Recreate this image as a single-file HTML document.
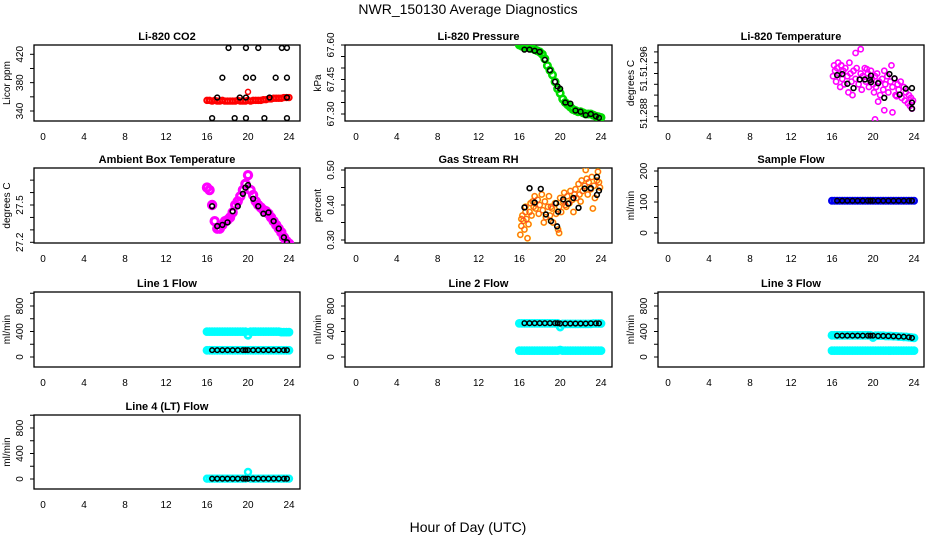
<!DOCTYPE html>
<html><head><meta charset="utf-8"><style>
html,body{margin:0;padding:0;background:#fff;}
svg{display:block;font-family:"Liberation Sans",sans-serif;}
</style></head><body>
<svg id="chart" width="936" height="540" viewBox="0 0 936 540" xmlns="http://www.w3.org/2000/svg">
<rect x="0" y="0" width="936" height="540" fill="#fff"/>
<text x="468" y="14" text-anchor="middle" font-size="14">NWR_150130  Average Diagnostics</text>
<text x="468" y="532" text-anchor="middle" font-size="14">Hour of Day (UTC)</text>
</svg>
<script>
// ---- data ----
const xTicks = [0,4,8,12,16,20,24];
const hoursD = [16.0,16.25,16.5,16.75,17.0,17.25,17.5,17.75,18.0,18.25,18.5,18.75,19.0,19.25,19.5,19.75,20.0,20.25,20.5,20.75,21.0,21.25,21.5,21.75,22.0,22.25,22.5,22.75,23.0,23.25,23.5,23.75,24.0];
const blackH = [16.5,17.0,17.5,18.0,18.5,19.0,19.5,19.75,20.0,20.5,21.0,21.5,22.0,22.5,23.0,23.5,23.8];

const co2Red = [355,355,354,355,354,354,355,354,354,354,354,354,355,354,354,354,355,354,355,355,355,355,356,356,357,357,358,358,358,358,359,359,359];
const co2OutH = [20.0];
const co2OutV = [367];
const co2BlackH = [16.5,17.0,17.5,18.1,18.7,19.2,19.8,19.8,19.8,19.8,20.5,21.0,21.6,22.1,22.7,23.3,23.8,23.8,23.8,23.8];
const co2BlackV = [330,359,387,429,330,359,429,387,359,330,387,429,330,359,387,429,429,387,359,330];

const presGreen = [67.60,67.595,67.59,67.59,67.59,67.585,67.58,67.575,67.57,67.56,67.54,67.51,67.49,67.47,67.44,67.41,67.39,67.365,67.35,67.34,67.33,67.32,67.315,67.31,67.31,67.305,67.30,67.30,67.30,67.295,67.29,67.288,67.285];
const presBlack = [67.58,67.58,67.575,67.57,67.535,67.49,67.44,67.42,67.41,67.35,67.345,67.315,67.31,67.295,67.30,67.29,67.283];

const tempH = [16.1,16.2,16.3,16.4,16.5,16.6,16.7,16.8,16.9,17.0,17.1,17.2,17.3,17.5,17.6,17.8,17.9,18.0,18.1,18.3,18.4,18.6,18.8,18.9,19.0,19.2,19.3,19.5,19.6,19.8,19.9,20.0,20.1,20.2,20.3,20.4,20.6,20.7,20.9,21.0,21.1,21.2,21.4,21.5,21.7,21.8,21.9,22.1,22.2,22.4,22.5,22.7,22.8,23.0,23.1,23.2,23.4,23.5,23.6,23.7,23.8,23.9,18.3,18.8,20.2,21.9,21.1,16.9,17.7,19.4,20.5,22.3];
const tempV = [51.2935,51.2955,51.2945,51.2925,51.2950,51.2960,51.2940,51.2915,51.2955,51.2930,51.2945,51.2920,51.2950,51.2935,51.2905,51.2940,51.2925,51.2900,51.2945,51.2930,51.2950,51.2920,51.2940,51.2910,51.2935,51.2950,51.2925,51.2940,51.2915,51.2945,51.2930,51.2920,51.2905,51.2935,51.2915,51.2940,51.2925,51.2900,51.2930,51.2910,51.2945,51.2920,51.2935,51.2905,51.2925,51.2955,51.2915,51.2930,51.2900,51.2920,51.2910,51.2925,51.2895,51.2915,51.2890,51.2905,51.2885,51.2900,51.2880,51.2895,51.2875,51.2890,51.2978,51.2985,51.2855,51.2868,51.2872,51.2955,51.2960,51.2948,51.2888,51.2898];
const tempBlackH = [16.5,17.0,17.5,18.1,18.7,19.2,19.7,19.8,19.8,20.5,21.1,21.6,22.1,22.6,23.2,23.8,23.8,23.8];
const tempBlackV = [51.2937,51.2939,51.2921,51.2913,51.2929,51.2929,51.2928,51.2936,51.2924,51.2922,51.2895,51.2939,51.2931,51.2901,51.2912,51.2913,51.2886,51.2875];

const ambMag = [27.64,27.62,27.50,27.37,27.31,27.31,27.34,27.37,27.38,27.40,27.44,27.50,27.53,27.57,27.62,27.67,27.74,27.62,27.58,27.53,27.50,27.48,27.46,27.45,27.43,27.40,27.37,27.34,27.31,27.28,27.24,27.21,27.19];
const ambBlack = [27.49,27.33,27.34,27.36,27.45,27.49,27.59,27.64,27.66,27.55,27.49,27.43,27.44,27.37,27.31,27.24,27.20];

const rhH = [16.1,16.2,16.3,16.4,16.5,16.6,16.7,16.8,16.9,17.0,17.1,17.2,17.4,17.5,17.6,17.8,17.9,18.0,18.2,18.3,18.5,18.6,18.8,18.9,19.0,19.2,19.3,19.5,19.6,19.8,19.9,20.0,20.1,20.3,20.4,20.6,20.7,20.9,21.0,21.2,21.3,21.5,21.6,21.8,21.9,22.1,22.2,22.4,22.5,22.7,22.8,23.0,23.1,23.3,23.4,23.6,23.7,23.9,16.2,16.6,17.3,18.4,19.1,19.9,20.5,21.4,22.0,22.6,23.2,23.8];
const rhV = [0.315,0.340,0.370,0.355,0.330,0.395,0.360,0.305,0.345,0.380,0.405,0.370,0.395,0.425,0.390,0.415,0.375,0.400,0.430,0.385,0.410,0.365,0.395,0.425,0.370,0.390,0.350,0.405,0.375,0.330,0.395,0.420,0.380,0.410,0.435,0.395,0.425,0.405,0.440,0.415,0.380,0.445,0.420,0.460,0.430,0.470,0.440,0.455,0.500,0.430,0.465,0.445,0.480,0.455,0.420,0.470,0.495,0.450,0.360,0.380,0.410,0.350,0.395,0.320,0.400,0.430,0.410,0.475,0.390,0.465];
const rhBlackH = [16.5,17.0,17.5,18.1,18.6,19.1,19.6,19.7,19.8,20.3,20.8,21.3,21.8,22.4,23.0,23.6,23.6,23.8];
const rhBlackV = [0.393,0.448,0.407,0.446,0.373,0.354,0.405,0.339,0.381,0.416,0.404,0.420,0.392,0.447,0.448,0.429,0.480,0.441];

const sampBlue = [104,104,104,104,104,104,104,104,104,104,104,104,104,104,104,104,104,104,104,104,104,104,104,104,104,104,104,104,104,104,104,104,104];
const sampBlack = [104,104,104,104,104,104,104,104,104,104,104,104,104,104,104,104,104];

const l1CyanHi = [398,398,398,398,398,398,398,398,398,398,398,398,398,398,398,398,340,398,398,398,398,398,398,398,398,398,398,398,398,390,390,390,390];
const l1CyanLo = [105,105,105,105,105,105,105,105,105,105,105,105,105,105,105,105,105,105,105,105,105,105,105,105,105,105,105,105,105,105,105,105,105];
const l1Black = [108,108,108,108,108,108,108,108,108,108,108,108,108,108,108,108,108];

const l2CyanHi = [528,528,528,528,528,528,528,528,528,528,528,528,528,528,528,528,470,520,520,520,520,520,520,520,520,520,520,520,520,525,525,525,525];
const l2CyanLo = [100,100,100,100,100,100,100,100,100,100,100,100,100,100,100,100,110,100,100,100,100,100,100,100,100,100,100,100,100,100,100,100,100];
const l2Black = [530,530,530,530,530,530,530,530,525,525,525,525,525,525,528,528,528];

const l3CyanHi = [340,340,340,340,340,340,340,340,340,340,340,340,340,340,340,340,305,335,335,335,335,330,330,330,325,325,320,320,315,315,310,305,300];
const l3CyanLo = [100,100,100,100,100,100,100,100,100,100,100,100,100,100,100,100,100,100,100,100,100,100,100,100,100,100,100,100,100,100,100,100,100];
const l3Black = [335,335,335,335,335,335,335,335,335,330,330,328,325,320,318,310,300];

const l4Cyan = [5,5,5,5,5,5,5,5,5,5,5,5,5,5,5,5,110,5,5,5,5,5,5,5,5,5,5,5,5,5,5,5,5];
const l4Black = [5,5,5,5,5,5,5,5,5,5,5,5,5,5,5,5,5];

// ---- layout ----
const NS = 'http://www.w3.org/2000/svg';
const svg = document.getElementById('chart');
const cols = [{l:34,r:300,x0:43,x24:289},{l:345,r:612,x0:356,x24:601},{l:658,r:924,x0:668,x24:914}];
const rows = [{t:45,b:121},{t:168,b:243},{t:292,b:367},{t:415,b:489}];

function mk(tag, attrs, parent){
  const e = document.createElementNS(NS, tag);
  for (const k in attrs) e.setAttribute(k, attrs[k]);
  (parent||svg).appendChild(e);
  return e;
}

function panel(name, title, col, row, yA, yB, yTicks, yLabels, yTitle){
  const c = cols[col], r = rows[row];
  const g = mk('g', {});
  
  
  const xs = h => c.x0 + (c.x24 - c.x0) * h / 24;
  const ys = v => yA[1] + (v - yA[0]) * (yB[1] - yA[1]) / (yB[0] - yA[0]);
  const box = mk('rect', {x:c.l, y:r.t, width:c.r-c.l, height:r.b-r.t, fill:'none', stroke:'#000', 'stroke-width':1.3}, g);
  
  
  const tt = mk('text', {x:(c.l+c.r)/2, y:r.t-5, 'text-anchor':'middle', 'font-size':11, 'font-weight':'bold'}, g);
  tt.textContent = title;
  
  
  xTicks.forEach(t => {
    const lb = mk('text', {x:xs(t), y:r.b+19, 'text-anchor':'middle', 'font-size':10}, g);
    lb.textContent = t;
    
    
  });
  yTicks.forEach(t => {
    const py = ys(t);
    if (py < r.t - 0.5 || py > r.b + 0.5) return;
    mk('line', {x1:c.l-4, x2:c.l, y1:py, y2:py, stroke:'#000', 'stroke-width':1}, g);
  });
  yLabels.forEach(l => {
    const py = ys(l.v);
    const lb = mk('text', {x:0, y:0, 'text-anchor':'middle', 'font-size':10, transform:`translate(${c.l-11},${py}) rotate(-90)`}, g);
    lb.textContent = l.t;
    
    
  });
  const yt = mk('text', {x:0, y:0, 'text-anchor':'middle', 'font-size':10, transform:`translate(${c.l-24},${(r.t+r.b)/2}) rotate(-90)`}, g);
  yt.textContent = yTitle;
  
  
  const clip = 'clip-' + name;
  const cp = mk('clipPath', {id:clip}, g);
  mk('rect', {x:c.l, y:r.t, width:c.r-c.l, height:r.b-r.t}, cp);
  const pg = mk('g', {'clip-path':`url(#${clip})`}, g);
  return {
    pts(hs, vs, color, rad, sw, nm){
      hs.forEach((h, i) => {
        const e = mk('circle', {cx:xs(h), cy:ys(vs[i]), r:rad, fill:'none', stroke:color, 'stroke-width':sw}, pg);
        
        
      });
    }
  };
}

function flowAxes(row){ return [[0, rows[row].b-10], [800, rows[row].b-61]]; }
const flowTicks = [0,200,400,600,800,1000];
const flowLabels = [{v:0,t:'0'},{v:400,t:'400'},{v:800,t:'800'}];

// CO2
let p = panel('co2', 'Li-820 CO2', 0, 0, [340,111], [420,54.3], [340,360,380,400,420], [{v:340,t:'340'},{v:380,t:'380'},{v:420,t:'420'}], 'Licor ppm');
p.pts(hoursD, co2Red, '#f00', 2.6, 2.2, 'co2-point');
p.pts(co2OutH, co2OutV, '#f00', 2.5, 1.5, 'co2-outlier');
p.pts(co2BlackH, co2BlackV, '#000', 2.4, 1.5, 'co2-avg-point');

// Pressure
p = panel('pressure', 'Li-820 Pressure', 1, 0, [67.30,114], [67.60,45], [67.30,67.35,67.40,67.45,67.50,67.55,67.60], [{v:67.30,t:'67.30'},{v:67.45,t:'67.45'},{v:67.60,t:'67.60'}], 'kPa');
p.pts(hoursD, presGreen, '#00dd00', 3.2, 2.6, 'pressure-point');
p.pts(blackH, presBlack, '#000', 2.4, 1.5, 'pressure-avg-point');

// Li-820 temp
p = panel('licor-temp', 'Li-820 Temperature', 2, 0, [51.286,116.7], [51.296,62.7], [51.286,51.288,51.290,51.292,51.294,51.296,51.298], [{v:51.2866,t:'51.288'},{v:51.292,t:'51.'},{v:51.2962,t:'51.296'}], 'degrees C');
p.pts(tempH, tempV, '#f0f', 2.6, 1.6, 'licor-temp-point');
p.pts(tempBlackH, tempBlackV, '#000', 2.4, 1.6, 'licor-temp-avg-point');

// Ambient
p = panel('ambient-temp', 'Ambient Box Temperature', 0, 1, [27.2,242.3], [27.5,205], [27.2,27.3,27.4,27.5,27.6,27.7], [{v:27.2,t:'27.2'},{v:27.5,t:'27.5'}], 'degrees C');
p.pts(hoursD, ambMag, '#f0f', 3.6, 3.2, 'ambient-temp-point');
p.pts(blackH, ambBlack, '#000', 2.4, 1.6, 'ambient-temp-avg-point');

// RH
p = panel('rh', 'Gas Stream RH', 1, 1, [0.30,240], [0.50,170], [0.30,0.35,0.40,0.45,0.50], [{v:0.30,t:'0.30'},{v:0.40,t:'0.40'},{v:0.50,t:'0.50'}], 'percent');
p.pts(rhH, rhV, '#ffd200', 2.6, 1.8, 'rh-point');
p.pts(rhH, rhV, '#f33', 2.6, 0.7, 'rh-point-inner');
p.pts(rhBlackH, rhBlackV, '#000', 2.4, 1.6, 'rh-avg-point');

// Sample flow
p = panel('sample-flow', 'Sample Flow', 2, 1, [0,233], [200,171], [0,50,100,150,200], [{v:0,t:'0'},{v:100,t:'100'},{v:200,t:'200'}], 'ml/min');
p.pts(hoursD, sampBlue, '#0000ee', 2.8, 2.4, 'sample-flow-point');
p.pts(blackH, sampBlack, '#000', 2.3, 1.5, 'sample-flow-avg-point');

// Line 1
let a = flowAxes(2);
p = panel('line1-flow', 'Line 1 Flow', 0, 2, a[0], a[1], flowTicks, flowLabels, 'ml/min');
p.pts(hoursD, l1CyanHi, '#00ffff', 3, 2.8, 'line1-flow-point');
p.pts(hoursD, l1CyanLo, '#00ffff', 3, 2.8, 'line1-flow-low-point');
p.pts(blackH, l1Black, '#000', 2.3, 1.5, 'line1-flow-avg-point');

// Line 2
a = flowAxes(2);
p = panel('line2-flow', 'Line 2 Flow', 1, 2, a[0], a[1], flowTicks, flowLabels, 'ml/min');
p.pts(hoursD, l2CyanHi, '#00ffff', 3, 2.8, 'line2-flow-point');
p.pts(hoursD, l2CyanLo, '#00ffff', 3, 2.8, 'line2-flow-low-point');
p.pts(blackH, l2Black, '#000', 2.3, 1.5, 'line2-flow-avg-point');

// Line 3
a = flowAxes(2);
p = panel('line3-flow', 'Line 3 Flow', 2, 2, a[0], a[1], flowTicks, flowLabels, 'ml/min');
p.pts(hoursD, l3CyanHi, '#00ffff', 3, 2.8, 'line3-flow-point');
p.pts(hoursD, l3CyanLo, '#00ffff', 3, 2.8, 'line3-flow-low-point');
p.pts(blackH, l3Black, '#000', 2.3, 1.5, 'line3-flow-avg-point');

// Line 4
a = flowAxes(3);
p = panel('line4-flow', 'Line 4 (LT) Flow', 0, 3, a[0], a[1], flowTicks, flowLabels, 'ml/min');
p.pts(hoursD, l4Cyan, '#00ffff', 3, 2.4, 'line4-flow-point');
p.pts(blackH, l4Black, '#000', 2.3, 1.5, 'line4-flow-avg-point');
</script>
</body></html>
